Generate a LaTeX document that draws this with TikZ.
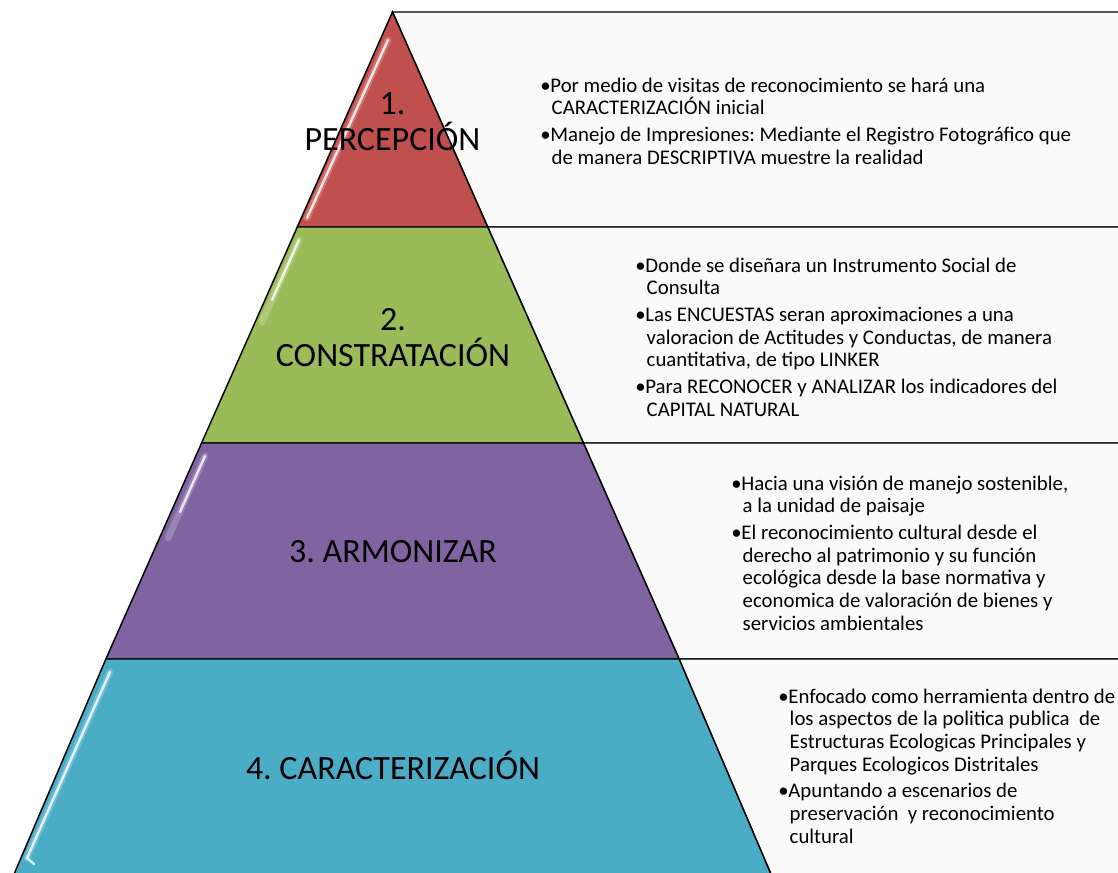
\documentclass[tikz,border=0pt]{standalone}
\usepackage{fontspec}
\setmainfont{Carlito}
\definecolor{pred}{HTML}{C0504D}
\definecolor{pgreen}{HTML}{9BBB59}
\definecolor{ppurple}{HTML}{8064A2}
\definecolor{pteal}{HTML}{4BACC6}
\definecolor{panelgray}{HTML}{FAFAFA}
\newcommand\bl{\makebox[7.6pt][l]{\textbullet}}
\newcommand\ind{\hspace*{8.6pt}}
\newcommand\fl{\rule{0pt}{12pt}}
\begin{document}
\frenchspacing
\begin{tikzpicture}[x=0.75pt,y=-0.75pt,
  band/.style={draw=black, line width=1.1pt, line join=miter},
  panel/.style={draw=black, fill=panelgray, line width=1.1pt},
  gloss/.style={white, line width=1.8pt, line cap=round, opacity=0.8},
  glow/.style={white, line width=5pt, line cap=round, opacity=0.2},
  title/.style={font=\fontsize{25.5pt}{27pt}\selectfont\frenchspacing, align=center, text=black, inner sep=0pt},
  bullets/.style={font=\fontsize{15.6pt}{17pt}\selectfont\frenchspacing, align=left, anchor=north west, inner sep=0pt, text=black}]
\useasboundingbox (0,0) rectangle (1118,873);
\clip (0,0) rectangle (1118,873);
% text panels
\path[panel] (392.5,12) -- (1140,12) -- (1140,227) -- (487.7,227) -- cycle;
\path[panel] (487.7,227) -- (1140,227) -- (1140,443) -- (583.4,443) -- cycle;
\path[panel] (583.4,443) -- (1140,443) -- (1140,659) -- (679.1,659) -- cycle;
\path[panel] (679.1,659) -- (1140,659) -- (1140,890) -- (777.7,890) -- cycle;
% pyramid bands
\path[band, fill=pred] (392.5,12) -- (487.7,227) -- (297.3,227) -- cycle;
\path[band, fill=pgreen] (297.3,227) -- (487.7,227) -- (583.4,443) -- (201.6,443) -- cycle;
\path[band, fill=ppurple] (201.6,443) -- (583.4,443) -- (679.1,659) -- (105.9,659) -- cycle;
\path[band, fill=pteal] (105.9,659) -- (679.1,659) -- (777.7,890) -- (7.3,890) -- cycle;
% gloss highlights
\draw[glow] (388,40) -- (307,218);
\draw[gloss] (388,40) -- (307,218);
\draw[glow] (299,240) -- (262,322);
\draw[gloss] (299,240) -- (272,300);
\draw[glow] (205,456) -- (168,538);
\draw[gloss] (205,456) -- (180,512);
\draw[glow] (110,672) -- (27,858);
\draw[gloss] (110,672) -- (27,858) -- (34,864);
% titles
\node[title, anchor=north] (t1) at (392.5,85) {\rule{0pt}{22pt}1.\\PERCEPCIÓN};
\node[title, anchor=north] (t2) at (393,301) {\rule{0pt}{22pt}2.\\CONSTRATACIÓN};
\node[title, anchor=base] (t3) at (393,562) {3. ARMONIZAR};
\node[title, anchor=base] (t4) at (393,779) {4. CARACTERIZACIÓN};
% bullet texts
\node[bullets] (b1) at (540,76) {\fl\bl Por medio de visitas de reconocimiento se hará una\\
\ind CARACTERIZACIÓN inicial\\[3pt]
\bl Manejo de Impresiones: Mediante el Registro Fotográfico que\\
\ind de manera DESCRIPTIVA muestre la realidad};
\node[bullets] (b2) at (635,256) {\fl\bl Donde se diseñara un Instrumento Social de\\
\ind Consulta\\[3pt]
\bl Las ENCUESTAS seran aproximaciones a una\\
\ind valoracion de Actitudes y Conductas, de manera\\
\ind cuantitativa, de tipo LINKER\\[3pt]
\bl Para RECONOCER y ANALIZAR los indicadores del\\
\ind CAPITAL NATURAL};
\node[bullets] (b3) at (731,474) {\fl\bl Hacia una visión de manejo sostenible,\\
\ind a la unidad de paisaje\\[3pt]
\bl El reconocimiento cultural desde el\\
\ind derecho al patrimonio y su función\\
\ind ecológica desde la base normativa y\\
\ind economica de valoración de bienes y\\
\ind servicios ambientales};
\node[bullets] (b4) at (778,687) {\fl\bl Enfocado como herramienta dentro de\\
\ind los aspectos de la politica publica\ \ de\\
\ind Estructuras Ecologicas Principales y\\
\ind Parques Ecologicos Distritales\\[3pt]
\bl Apuntando a escenarios de\\
\ind preservación\ \ y reconocimiento\\
\ind cultural};
\end{tikzpicture}
\end{document}
